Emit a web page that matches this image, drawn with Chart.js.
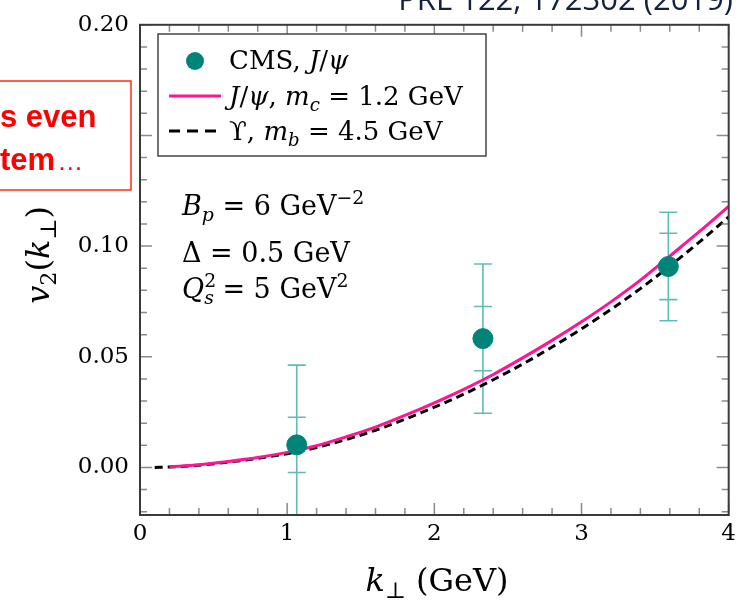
<!DOCTYPE html>
<html>
<head>
<meta charset="utf-8">
<script src="https://cdn.jsdelivr.net/npm/chart.js@4"></script>
<style>
  html, body { margin: 0; padding: 0; background: #fff; }
  #wrap { width: 741px; height: 603px; position: relative; }
</style>
</head>
<body>
<div id="wrap"><canvas id="v2chart" width="741" height="603"></canvas></div>
<script>
// CMS J/psi data points
const cmsK = [1.065, 2.33, 3.59];
const cmsV2 = [0.0102, 0.0582, 0.0908];
const cmsErrInner = [0.0125, 0.0145, 0.0150];
const cmsErrOuter = [0.0360, 0.0337, 0.0245];

// model curves
const kJpsi = [0.2, 0.4, 0.6, 0.8, 1.0, 1.2, 1.4, 1.6, 1.8, 2.0, 2.2, 2.4, 2.6, 2.8, 3.0, 3.2, 3.4, 3.6, 3.8, 4.0];
const v2Jpsi = [0.0003, 0.0012, 0.0027, 0.0045, 0.0068, 0.0098, 0.0138, 0.0182, 0.0235, 0.0292, 0.0353, 0.0420, 0.0495, 0.0574, 0.0658, 0.0748, 0.0846, 0.0955, 0.1065, 0.1180];
const kUps = [0.1, 0.2, 0.4, 0.6, 0.8, 1.0, 1.2, 1.4, 1.6, 1.8, 2.0, 2.2, 2.4, 2.6, 2.8, 3.0, 3.2, 3.4, 3.6, 3.8, 4.0];
const v2Ups = [0.0000, 0.0002, 0.0010, 0.0024, 0.0041, 0.0062, 0.0090, 0.0126, 0.0168, 0.0218, 0.0272, 0.0331, 0.0396, 0.0467, 0.0544, 0.0626, 0.0714, 0.0808, 0.0910, 0.1018, 0.1132];

// tick labels
const xTicks = [0, 1, 2, 3, 4];
const yTicks = [0, 0.05, 0.10, 0.15, 0.20];

const TEAL = '#00847a';
const TEAL_BAR = '#5dbdb6';
const PINK = '#ff1493';
const SERIF = '"DejaVu Serif", serif';

// draws a list of text pieces with italic / sub / sup
function richWidth(ctx, segs, size) {
  let w = 0;
  for (const s of segs) {
    const fs = (s.sub || s.sup) ? size * 0.7 : size;
    ctx.font = (s.i ? 'italic ' : '') + fs + 'px ' + SERIF;
    if (!s.keep) w += ctx.measureText(s.t).width;
  }
  return w;
}
function rich(ctx, x, y, segs, size, align) {
  if (align === 'center') x -= richWidth(ctx, segs, size) / 2;
  ctx.textBaseline = 'alphabetic';
  ctx.textAlign = 'left';
  for (const s of segs) {
    const fs = (s.sub || s.sup) ? size * 0.7 : size;
    ctx.font = (s.i ? 'italic ' : '') + fs + 'px ' + SERIF;
    let dy = 0;
    if (s.sub) dy = size * 0.22;
    if (s.sup) dy = -size * 0.42;
    ctx.fillText(s.t, x, y + dy);
    if (!s.keep) x += ctx.measureText(s.t).width;
  }
}

const extras = {
  id: 'extras',
  beforeDatasetsDraw(chart) {
    const { ctx, chartArea: a, scales: { x, y } } = chart;
    ctx.save();
    ctx.beginPath();
    ctx.rect(a.left, a.top, a.right - a.left, a.bottom - a.top);
    ctx.clip();
    ctx.strokeStyle = TEAL_BAR;
    ctx.lineWidth = 1.6;
    for (let i = 0; i < cmsK.length; i++) {
      const px = x.getPixelForValue(cmsK[i]);
      const errs = [cmsErrOuter[i], cmsErrInner[i]];
      const lo = y.getPixelForValue(cmsV2[i] - cmsErrOuter[i]);
      const hi = y.getPixelForValue(cmsV2[i] + cmsErrOuter[i]);
      ctx.beginPath();
      ctx.moveTo(px, lo);
      ctx.lineTo(px, hi);
      ctx.stroke();
      for (const e of errs) {
        for (const v of [cmsV2[i] - e, cmsV2[i] + e]) {
          const py = y.getPixelForValue(v);
          ctx.beginPath();
          ctx.moveTo(px - 9, py);
          ctx.lineTo(px + 9, py);
          ctx.stroke();
        }
      }
    }
    ctx.restore();
  },
  afterDatasetsDraw(chart) {
    const { ctx, chartArea: a, scales: { x, y } } = chart;
    ctx.save();
    // inward ticks on all sides
    ctx.strokeStyle = '#8a8a8a';
    ctx.lineWidth = 1.5;
    for (let i = 0; i <= 20; i++) {
      const px = x.getPixelForValue(i * 0.2);
      const len = i % 5 === 0 ? 12 : 7;
      ctx.beginPath();
      ctx.moveTo(px, a.bottom); ctx.lineTo(px, a.bottom - len);
      ctx.moveTo(px, a.top); ctx.lineTo(px, a.top + len);
      ctx.stroke();
    }
    for (let i = -2; i <= 20; i++) {
      const py = y.getPixelForValue(i * 0.01);
      const len = i % 5 === 0 ? 12 : 7;
      ctx.beginPath();
      ctx.moveTo(a.left, py); ctx.lineTo(a.left + len, py);
      ctx.moveTo(a.right, py); ctx.lineTo(a.right - len, py);
      ctx.stroke();
    }
    // frame
    ctx.strokeStyle = '#3a3a3a';
    ctx.lineWidth = 2;
    ctx.strokeRect(a.left, a.top, a.right - a.left, a.bottom - a.top);

    // legend box
    ctx.fillStyle = '#fff';
    ctx.fillRect(158, 34, 328, 122);
    ctx.strokeStyle = '#444';
    ctx.lineWidth = 1.5;
    ctx.strokeRect(158, 34, 328, 122);
    ctx.fillStyle = TEAL;
    ctx.beginPath();
    ctx.arc(195, 61, 9, 0, Math.PI * 2);
    ctx.fill();
    ctx.strokeStyle = PINK;
    ctx.lineWidth = 3;
    ctx.beginPath(); ctx.moveTo(169, 96); ctx.lineTo(221, 96); ctx.stroke();
    ctx.strokeStyle = '#000';
    ctx.setLineDash([11, 7]);
    ctx.beginPath(); ctx.moveTo(169, 131); ctx.lineTo(221, 131); ctx.stroke();
    ctx.setLineDash([]);
    ctx.fillStyle = '#000';
    rich(ctx, 229, 69, [{ t: 'CMS, ' }, { t: 'J', i: 1 }, { t: '/' }, { t: 'ψ', i: 1 }], 26);
    rich(ctx, 229, 105, [{ t: 'J', i: 1 }, { t: '/' }, { t: 'ψ', i: 1 }, { t: ', ' }, { t: 'm', i: 1 }, { t: 'c', i: 1, sub: 1 }, { t: ' = 1.2 GeV' }], 26);
    rich(ctx, 229, 140, [{ t: 'ϒ, ' }, { t: 'm', i: 1 }, { t: 'b', i: 1, sub: 1 }, { t: ' = 4.5 GeV' }], 26);

    // parameters
    rich(ctx, 182, 215, [{ t: 'B', i: 1 }, { t: 'p', i: 1, sub: 1 }, { t: ' = 6 GeV' }, { t: '−2', sup: 1 }], 27);
    rich(ctx, 182, 262, [{ t: 'Δ = 0.5 GeV' }], 27);
    rich(ctx, 182, 298, [{ t: 'Q', i: 1 }, { t: '2', sup: 1, keep: 1 }, { t: 's', i: 1, sub: 1 }, { t: ' = 5 GeV' }, { t: '2', sup: 1 }], 27);

    // axis titles
    rich(ctx, 437, 591, [{ t: 'k', i: 1 }, { t: '⊥', sub: 1 }, { t: ' (GeV)' }], 32, 'center');
    ctx.translate(49, 255);
    ctx.rotate(-Math.PI / 2);
    rich(ctx, 0, 0, [{ t: 'v', i: 1 }, { t: '2', sub: 1 }, { t: '(' }, { t: 'k', i: 1 }, { t: '⊥', sub: 1 }, { t: ')' }], 32, 'center');
    ctx.restore();

    // slide remnants around the figure
    ctx.save();
    ctx.fillStyle = '#fff';
    ctx.fillRect(-4, 81, 135, 109);
    ctx.strokeStyle = '#ff2a1a';
    ctx.lineWidth = 1.5;
    ctx.strokeRect(-4, 81, 135, 109);
    ctx.fillStyle = '#ff0000';
    ctx.font = 'bold 31px "Liberation Sans", sans-serif';
    ctx.textAlign = 'left';
    ctx.textBaseline = 'alphabetic';
    ctx.fillText('s even', 0, 127);
    ctx.fillText('tem', 0, 170);
    const tw = ctx.measureText('tem').width;
    ctx.font = '26px "Liberation Sans", sans-serif';
    ctx.fillText('…', tw + 2, 170);
    ctx.fillStyle = '#14213d';
    ctx.font = '31px "Open Sans", sans-serif';
    ctx.textAlign = 'right';
    ctx.fillText('PRL 122, 172302 (2019)', 733, 10);
    ctx.restore();
  }
};

const ctx = document.getElementById('v2chart').getContext('2d');
const chart = new Chart(ctx, {
  type: 'scatter',
  data: {
    datasets: [{
      label: 'CMS, J/ψ',
      data: cmsK.map((k, i) => ({ x: k, y: cmsV2[i] })),
      backgroundColor: TEAL,
      borderColor: TEAL,
      pointRadius: 10,
      pointHoverRadius: 10
    }, {
      type: 'line',
      label: 'J/ψ, m_c = 1.2 GeV',
      data: kJpsi.map((k, i) => ({ x: k, y: v2Jpsi[i] })),
      borderColor: PINK,
      borderWidth: 3,
      pointRadius: 0,
      fill: false,
      cubicInterpolationMode: 'monotone'
    }, {
      type: 'line',
      label: 'ϒ, m_b = 4.5 GeV',
      data: kUps.map((k, i) => ({ x: k, y: v2Ups[i] })),
      borderColor: '#000',
      borderWidth: 3,
      borderDash: [8, 5],
      pointRadius: 0,
      fill: false,
      cubicInterpolationMode: 'monotone'
    }]
  },
  options: {
    responsive: false,
    animation: false,
    layout: { padding: { left: 0, right: 8, top: 20, bottom: 0 } },
    plugins: { legend: { display: false }, tooltip: { enabled: false } },
    scales: {
      x: {
        type: 'linear',
        min: 0,
        max: 4,
        afterBuildTicks: s => { s.ticks = xTicks.map(v => ({ value: v })); },
        afterFit: s => { s.height = 88; },
        grid: { display: false, drawTicks: false },
        border: { display: false },
        ticks: {
          color: '#000',
          padding: 5,
          maxRotation: 0,
          autoSkip: false,
          font: { family: 'DejaVu Serif', size: 23 },
          callback: v => String(v)
        }
      },
      y: {
        min: -0.0215,
        max: 0.20,
        afterBuildTicks: s => { s.ticks = yTicks.map(v => ({ value: v })); },
        afterFit: s => { s.width = 140; },
        grid: { display: false, drawTicks: false },
        border: { display: false },
        ticks: {
          color: '#000',
          padding: 11,
          font: { family: 'DejaVu Serif', size: 23 },
          callback: v => v.toFixed(2)
        }
      }
    }
  },
  plugins: [extras]
});
</script>
</body>
</html>
